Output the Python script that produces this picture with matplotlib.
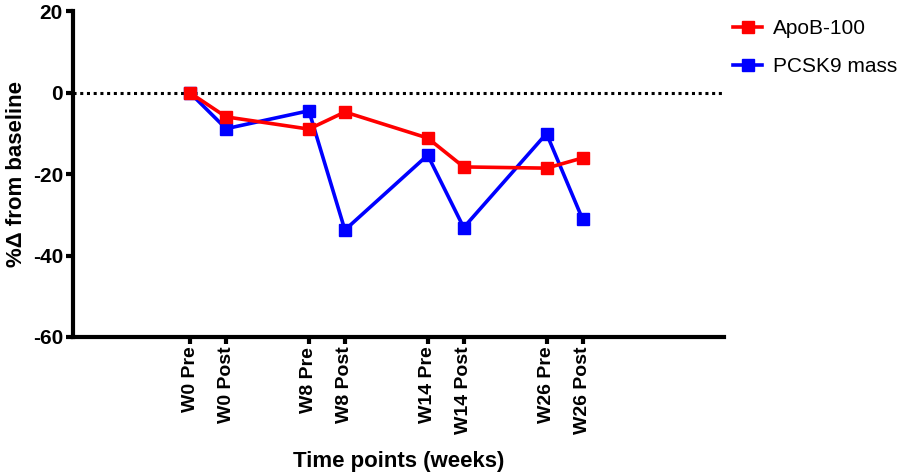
import matplotlib
matplotlib.use("Agg")
import matplotlib.pyplot as plt

plt.rcParams['font.family'] = ['Liberation Sans', 'DejaVu Sans']
plt.rcParams['axes.unicode_minus'] = False

time_labels = ["W0 Pre", "W0 Post", "W8 Pre", "W8 Post",
               "W14 Pre", "W14 Post", "W26 Pre", "W26 Post"]
x_pos = [0, 1, 3.3, 4.3, 6.6, 7.6, 9.9, 10.9]
apob = [0, -5.9, -8.9, -4.7, -11.1, -18.2, -18.5, -16.0]
pcsk9 = [0, -8.8, -4.4, -33.7, -15.3, -33.1, -10.0, -31.0]

fig = plt.figure(figsize=(9.04, 4.76), dpi=100)
ax = fig.add_axes([72.7 / 904, 1 - 337 / 476, (724 - 72.7) / 904, (337 - 11.5) / 476])

ax.axhline(0, color="black", lw=2.2, linestyle=(0, (1, 1.2)), zorder=1)
ax.plot(x_pos, apob, color="#ff0000", lw=2.6, marker="s", ms=8,
        label="ApoB-100", zorder=3)
ax.plot(x_pos, pcsk9, color="#0000ff", lw=2.6, marker="s", ms=8,
        label="PCSK9 mass", zorder=2)

ax.set_xlim(-3.26, 14.83)
ax.set_ylim(-60, 20)
ax.set_yticks([-60, -40, -20, 0, 20])
ax.set_xticks(x_pos)
ax.set_xticklabels(time_labels, rotation=90, fontsize=14, fontweight="bold")
for lab in ax.get_yticklabels():
    lab.set_fontsize(15)
    lab.set_fontweight("bold")

for side in ["top", "right"]:
    ax.spines[side].set_visible(False)
for side in ["left", "bottom"]:
    ax.spines[side].set_linewidth(3)
ax.tick_params(axis="both", width=3, length=5, direction="out", pad=2)

ax.set_ylabel("%\u0394 from baseline", fontsize=16, fontweight="bold", labelpad=4)
ax.set_xlabel("Time points (weeks)", fontsize=16, fontweight="bold", labelpad=12)

ax.legend(loc="upper left", bbox_to_anchor=(0.995, 1.014), frameon=False,
          fontsize=15, handlelength=1.4, handletextpad=0.5,
          labelspacing=0.9, borderaxespad=0.2)

fig.savefig("out.png", dpi=100)
